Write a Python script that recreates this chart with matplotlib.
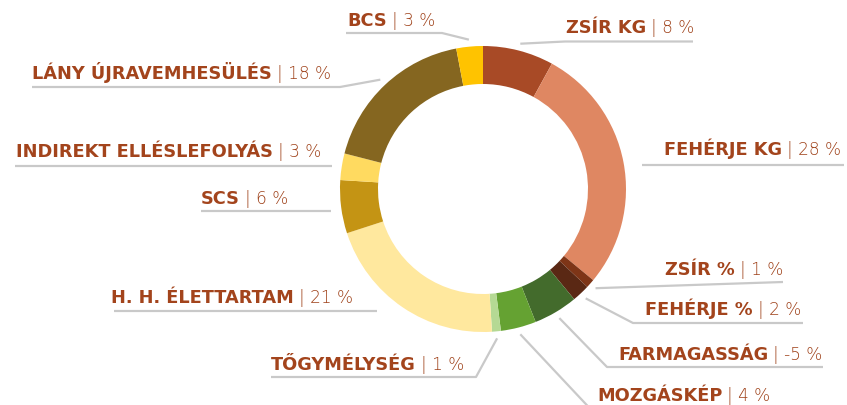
import matplotlib
matplotlib.use("Agg")
import matplotlib.pyplot as plt
import numpy as np

# ---- data ----
categories = ["ZSÍR KG", "FEHÉRJE KG", "ZSÍR %", "FEHÉRJE %", "FARMAGASSÁG",
              "MOZGÁSKÉP", "TŐGYMÉLYSÉG", "H. H. ÉLETTARTAM", "SCS",
              "INDIREKT ELLÉSLEFOLYÁS", "LÁNY ÚJRAVEMHESÜLÉS", "BCS"]
values = [8, 28, 1, 2, -5, 4, 1, 21, 6, 3, 18, 3]
colors = ["#A84A26", "#DF8762", "#7E3517", "#5A2814", "#436B2C", "#65A232",
          "#B5D994", "#FFE89E", "#C49414", "#FFDA60", "#856620", "#FFC300"]

# ---- layout (pixel coords, y from top) ----
W, H = 847, 406
CX, CY, R, RW = 483, 190, 143, 38
R_LEAD = 150
# text left x, baseline y, leader path (after the slice start), connect to slice?
label_layout = [
    (566, 33, [(565, 42.5), (693, 42.5)], True),
    (664, 155, [(642, 166), (844, 166)], False),
    (665, 275, [(783, 283)], True),
    (645, 315, [(633, 324), (803, 324)], True),
    (618, 360, [(607, 368), (823, 368)], True),
    (597, 401, [(598, 418), (770, 418)], True),
    (271, 370, [(476, 378), (271, 378)], True),
    (111, 303, [(114, 312), (377, 312)], False),
    (201, 204, [(201, 212), (331, 212)], False),
    (16, 157, [(15, 167), (332, 167)], False),
    (32, 79, [(340, 88), (32, 88)], True),
    (347, 26, [(442, 34), (346, 34)], True),
]

TEXT_COLOR = "#A3441C"
VALUE_COLOR = "#9E4018"
LINE_COLOR = "#C9C9C9"

fig = plt.figure(figsize=(W / 100, H / 100), dpi=100)
ax = fig.add_axes([0, 0, 1, 1])

sizes = [abs(v) for v in values]
ax.pie(sizes, colors=colors, startangle=270, counterclock=True,
       radius=R, center=(CX, CY),
       wedgeprops=dict(width=RW, linewidth=0))
ax.set_xlim(0, W)
ax.set_ylim(H, 0)
ax.set_aspect("equal")
ax.axis("off")

total = float(sum(sizes))
cum = np.cumsum([0] + sizes)
fig.canvas.draw()
renderer = fig.canvas.get_renderer()

for i, (cat, val) in enumerate(zip(categories, values)):
    tx, ty, path, connect = label_layout[i]
    pts = list(path)
    if connect:
        mid = (cum[i] + cum[i + 1]) / 2 / total * 2 * np.pi
        sx = CX + R_LEAD * np.sin(mid)
        sy = CY - R_LEAD * np.cos(mid)
        pts = [(sx, sy)] + pts
    xs, ys = zip(*pts)
    ax.plot(xs, ys, color=LINE_COLOR, lw=1.6, solid_capstyle="butt", clip_on=True)

    t1 = ax.text(tx, ty, cat, fontsize=12.8, fontweight="bold",
                 family="DejaVu Sans", color=TEXT_COLOR, ha="left", va="baseline")
    bb = t1.get_window_extent(renderer=renderer)
    x_end = ax.transData.inverted().transform((bb.x1, bb.y0))[0]
    ax.text(x_end + 5, ty, "| " + f"{val} %", fontsize=12.2, fontweight=200,
            family="DejaVu Sans", color=VALUE_COLOR,
            ha="left", va="baseline")

fig.savefig("out.png", dpi=100)
